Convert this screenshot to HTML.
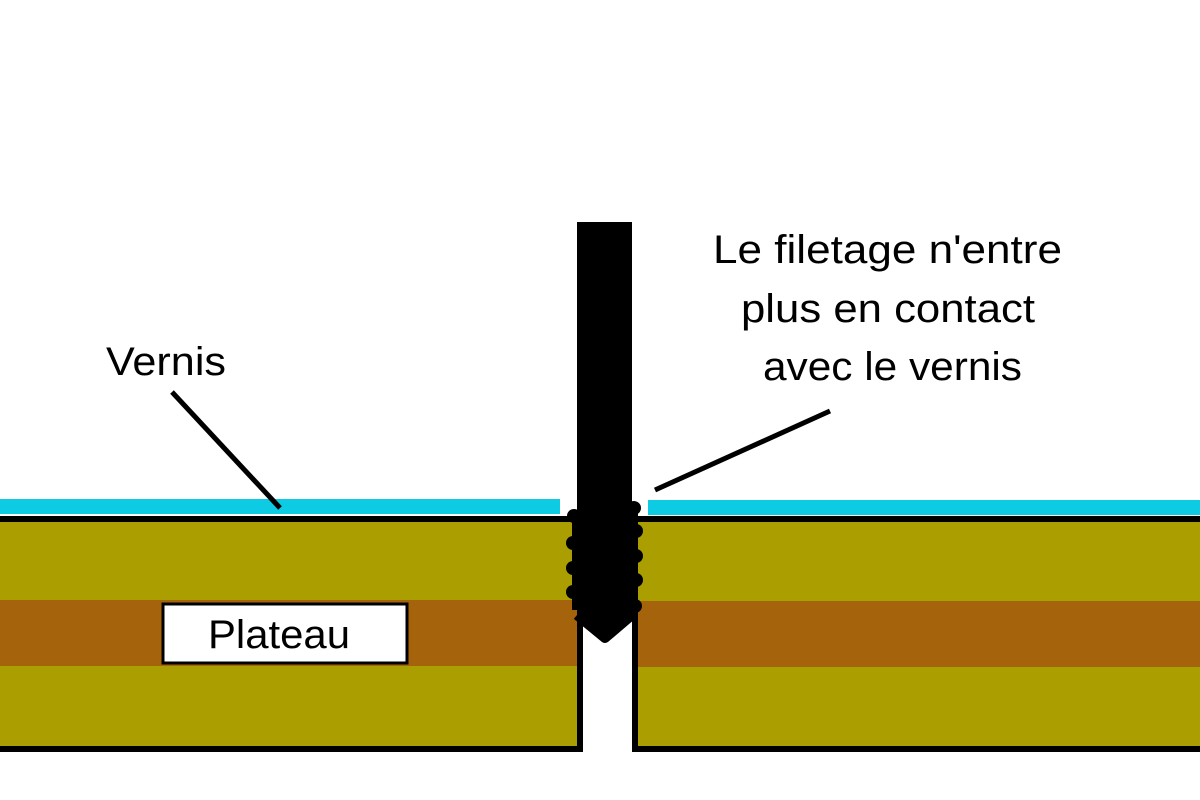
<!DOCTYPE html>
<html><head><style>body{margin:0;background:#fff}svg{display:block}</style></head><body>
<svg width="1200" height="800" xmlns="http://www.w3.org/2000/svg">
<rect width="1200" height="800" fill="#fff"/>
<rect x="0" y="499" width="560" height="15" fill="#0ccbe3"/>
<rect x="648" y="500" width="552" height="15" fill="#0ccbe3"/>
<rect x="0" y="522" width="577" height="225" fill="#aa9e00"/>
<rect x="636" y="522" width="564" height="225" fill="#aa9e00"/>
<rect x="0" y="600" width="577" height="66" fill="#a5640c"/>
<rect x="636" y="601" width="564" height="66" fill="#a5640c"/>
<path d="M0 519 H577 M632 519 H1200" stroke="#000" stroke-width="6"/>
<path d="M0 749 H580 V520 M1200 749 H635 V520" stroke="#000" stroke-width="6" fill="none"/>
<path d="M577 222 H632 V620 L605 637 L577 620 Z" fill="#000"/>
<rect x="572" y="510" width="66" height="100" fill="#000"/>
<path d="M577 615 L605 638 L632 615" stroke="#000" stroke-width="10" stroke-linejoin="round" fill="none"/>
<g fill="#000">
<circle cx="574" cy="516" r="7"/><circle cx="573" cy="543" r="7"/><circle cx="573" cy="568" r="7"/><circle cx="573" cy="592" r="7"/>
<circle cx="634" cy="508" r="7"/><circle cx="636" cy="531" r="7"/><circle cx="636" cy="556" r="7"/><circle cx="636" cy="580" r="7"/><circle cx="635" cy="606" r="7"/>
</g>
<line x1="172" y1="392" x2="280" y2="508" stroke="#000" stroke-width="5"/>
<line x1="830" y1="411" x2="655" y2="490" stroke="#000" stroke-width="5"/>
<rect x="163" y="604" width="244" height="59" fill="#fff" stroke="#000" stroke-width="3"/>
<g font-family="Liberation Sans, sans-serif" font-size="40" fill="#000">
<text x="208" y="648" textLength="142" lengthAdjust="spacingAndGlyphs">Plateau</text>
<text x="106" y="375" textLength="120" lengthAdjust="spacingAndGlyphs">Vernis</text>
<text x="713" y="263" textLength="349" lengthAdjust="spacingAndGlyphs">Le filetage n'entre</text>
<text x="741" y="322" textLength="294" lengthAdjust="spacingAndGlyphs">plus en contact</text>
<text x="763" y="380" textLength="259" lengthAdjust="spacingAndGlyphs">avec le vernis</text>
</g>
</svg>
</body></html>
